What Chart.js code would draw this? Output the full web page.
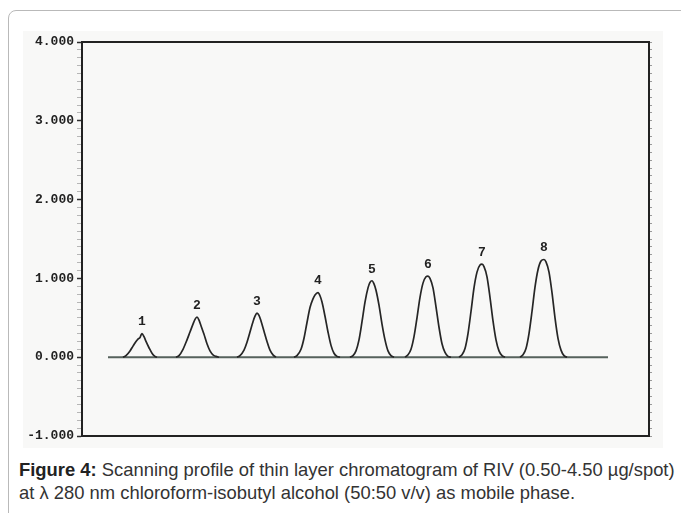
<!DOCTYPE html>
<html>
<head>
<meta charset="utf-8">
<script src="https://cdn.jsdelivr.net/npm/chart.js@4.4.1/dist/chart.umd.min.js"></script>
<style>
  html, body { margin: 0; padding: 0; background: #ffffff; width: 681px; height: 513px; overflow: hidden; }
  #frame { position: absolute; left: 8px; top: 10px; width: 700px; height: 540px; border: 1px solid #b9b9b9; border-radius: 8px; }
  #scan { position: absolute; left: 23px; top: 31px; width: 640px; height: 417px; background: #f8f8f7; }
  #wrap { position: absolute; left: 0; top: 0; width: 640px; height: 417px; }
  #caption { position: absolute; left: 19px; top: 459px; width: 670px; font-family: "Liberation Sans", Arial, sans-serif; font-size: 18.4px; line-height: 22.5px; color: #333; white-space: nowrap; }
  #caption b { color: #222; }
</style>
</head>
<body>
<div id="frame"></div>
<div id="scan"><div id="wrap"><canvas id="c"></canvas></div></div>
<div id="caption"><b>Figure 4:</b> Scanning profile of thin layer chromatogram of RIV (0.50-4.50 µg/spot)<br>at λ 280 nm chloroform-isobutyl alcohol (50:50 v/v) as mobile phase.</div>
<script>
// Track position (arbitrary scan units) and signal
const peakLabels = ['1', '2', '3', '4', '5', '6', '7', '8'];
const peak1 = [[41,0],[44,0.02],[48,0.08],[51,0.14],[54,0.20],[56,0.23],[58,0.25],[59,0.28],[60,0.30],[62,0.26],[64,0.20],[67,0.12],[70,0.05],[73,0.01],[75,0]];
const peak2 = [[94,0],[97,0.02],[101,0.10],[105,0.22],[108,0.32],[111,0.42],[113,0.48],[115,0.51],[117,0.47],[119,0.40],[122,0.29],[125,0.17],[128,0.08],[131,0.03],[134,0.01],[137,0]];
const peak3 = [[155,0],[158,0.02],[162,0.09],[165,0.19],[168,0.32],[171,0.45],[173,0.52],[175,0.56],[177,0.53],[179,0.46],[182,0.33],[185,0.20],[188,0.09],[191,0.03],[194,0]];
const peak4 = [[212,0],[215,0.02],[219,0.10],[222,0.24],[225,0.44],[228,0.63],[231,0.74],[233,0.79],[236,0.82],[238,0.78],[240,0.70],[243,0.52],[246,0.32],[249,0.15],[252,0.05],[255,0.01],[258,0]];
const peak5 = [[268,0],[271,0.02],[274,0.08],[277,0.22],[280,0.45],[283,0.70],[286,0.88],[288,0.95],[290,0.97],[292,0.93],[294,0.85],[297,0.66],[300,0.42],[303,0.22],[306,0.08],[309,0.02],[312,0]];
const peak6 = [[323,0],[326,0.03],[329,0.10],[332,0.26],[335,0.50],[338,0.76],[341,0.94],[344,1.02],[346,1.03],[348,1.00],[351,0.88],[354,0.64],[357,0.38],[360,0.17],[363,0.06],[366,0.01],[369,0]];
const peak7 = [[377,0],[380,0.03],[383,0.11],[386,0.30],[389,0.58],[392,0.88],[395,1.08],[398,1.17],[400,1.18],[402,1.15],[405,1.02],[408,0.76],[411,0.46],[414,0.22],[417,0.08],[420,0.02],[423,0]];
const peak8 = [[438,0],[441,0.03],[444,0.11],[447,0.30],[450,0.58],[453,0.89],[456,1.11],[459,1.22],[462,1.24],[464,1.21],[467,1.08],[470,0.82],[473,0.50],[476,0.24],[479,0.09],[482,0.02],[485,0]];
const baseline = [[26,0],[526,0]];
const yTickValues = [-1, 0, 1, 2, 3, 4];

const peaks = [peak1, peak2, peak3, peak4, peak5, peak6, peak7, peak8];
const toPts = arr => arr.map(p => ({x: p[0], y: p[1]}));

const datasets = peaks.map((pk, i) => ({
  label: 'Peak ' + peakLabels[i],
  data: toPts(pk),
  borderColor: '#262626',
  borderWidth: 1.7,
  pointRadius: 0,
  cubicInterpolationMode: 'monotone',
  fill: false
}));
datasets.push({
  label: 'Baseline',
  data: toPts(baseline),
  borderColor: '#56625c',
  borderWidth: 2,
  pointRadius: 0,
  fill: false
});

const isMajor = v => Math.abs(v - Math.round(v)) < 1e-6;
const minorTicks = scale => {
  const t = [];
  for (let k = -10; k <= 40; k++) t.push({value: k / 10});
  scale.ticks = t;
};

const frameAndLabels = {
  id: 'frameAndLabels',
  afterDatasetsDraw(chart) {
    const {ctx, chartArea: a, scales} = chart;
    ctx.save();
    ctx.strokeStyle = '#222';
    ctx.lineWidth = 2;
    ctx.strokeRect(a.left, a.top, a.right - a.left, a.bottom - a.top);
    ctx.font = 'bold 13px "Liberation Mono", "Courier New", monospace';
    ctx.fillStyle = '#222';
    ctx.textAlign = 'center';
    ctx.textBaseline = 'bottom';
    peaks.forEach((pk, i) => {
      let top = pk[0];
      pk.forEach(p => { if (p[1] > top[1]) top = p; });
      const px = scales.x.getPixelForValue(top[0]);
      const py = scales.y.getPixelForValue(top[1]);
      ctx.fillText(peakLabels[i], px, py - 5);
    });
    ctx.restore();
  }
};

new Chart(document.getElementById('c'), {
  type: 'line',
  data: { datasets },
  options: {
    responsive: true,
    maintainAspectRatio: false,
    animation: false,
    layout: { padding: { left: 0, right: 11, top: 11, bottom: 12 } },
    plugins: { legend: { display: false }, tooltip: { enabled: false } },
    scales: {
      x: {
        type: 'linear', min: 0, max: 567, display: false
      },
      y: {
        type: 'linear', min: -1, max: 4, position: 'left',
        afterFit(scale) { scale.width = 59; },
        afterBuildTicks: minorTicks,
        ticks: {
          autoSkip: false,
          padding: 3,
          color: '#222',
          font: { family: '"Liberation Mono", "Courier New", monospace', size: 13, weight: 'bold' },
          callback: v => (isMajor(v) && yTickValues.includes(Math.round(v))) ? Math.round(v).toFixed(3) : ''
        },
        grid: {
          drawOnChartArea: false,
          tickLength: 5,
          tickColor: c => isMajor(c.tick.value) ? '#2e2e2e' : 'rgba(60,60,60,0.35)',
          tickWidth: c => isMajor(c.tick.value) ? 1.5 : 1
        },
        border: { display: true, color: '#222', width: 2 }
      },
      yRight: {
        type: 'linear', min: -1, max: 4, position: 'right',
        afterFit(scale) { scale.width = 3; },
        afterBuildTicks: minorTicks,
        ticks: { display: false, autoSkip: false },
        grid: {
          drawOnChartArea: false,
          tickLength: 3,
          tickColor: 'rgba(40,40,40,0.45)',
          tickWidth: 1
        },
        border: { display: true, color: '#222', width: 2 }
      }
    }
  },
  plugins: [frameAndLabels]
});
</script>
</body>
</html>
